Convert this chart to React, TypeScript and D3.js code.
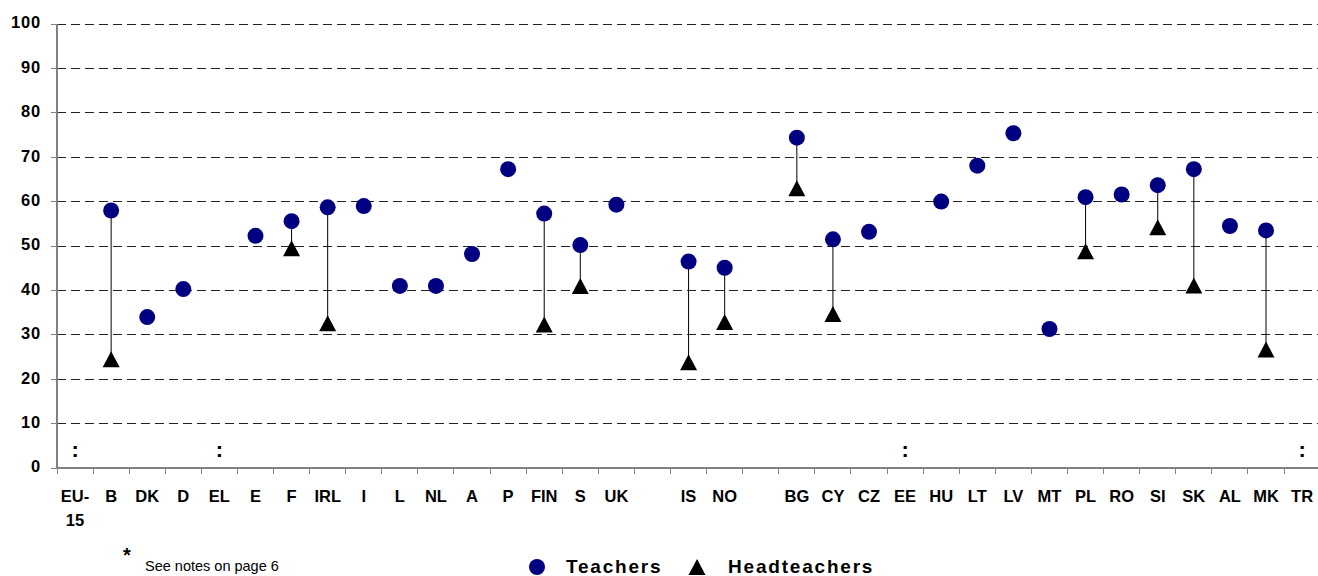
import * as React from "react";
import * as d3 from "d3";

// x slots, including the two blank spacer slots between country groups
const SLOTS = [
  "EU-15", "B", "DK", "D", "EL", "E", "F", "IRL", "I", "L", "NL", "A", "P", "FIN", "S", "UK",
  "_gap1", "IS", "NO", "_gap2",
  "BG", "CY", "CZ", "EE", "HU", "LT", "LV", "MT", "PL", "RO", "SI", "SK", "AL", "MK", "TR",
];

const MISSING = ["EU-15", "EL", "EE", "TR"];

const TEACHERS: [string, number][] = [
  ["B", 58], ["DK", 34], ["D", 40.3], ["E", 52.3], ["F", 55.6], ["IRL", 58.7], ["I", 59],
  ["L", 41], ["NL", 41], ["A", 48.2], ["P", 67.3], ["FIN", 57.3], ["S", 50.2], ["UK", 59.3],
  ["IS", 46.5], ["NO", 45.1],
  ["BG", 74.4], ["CY", 51.5], ["CZ", 53.2], ["HU", 60], ["LT", 68.1], ["LV", 75.4],
  ["MT", 31.3], ["PL", 61], ["RO", 61.6], ["SI", 63.7], ["SK", 67.3], ["AL", 54.5], ["MK", 53.5],
];

const HEADTEACHERS: [string, number][] = [
  ["B", 24.5], ["F", 49.5], ["IRL", 32.6], ["FIN", 32.3], ["S", 41],
  ["IS", 23.8], ["NO", 32.9],
  ["BG", 63], ["CY", 34.7], ["PL", 48.8], ["SI", 54.2], ["SK", 41.1], ["MK", 26.7],
];

const Y_TICKS = [0, 10, 20, 30, 40, 50, 60, 70, 80, 90, 100];

const WIDTH = 1318;
const HEIGHT = 576;
const margin = { top: 24, left: 57, bottom: 108 };

const NAVY = "#000080";
const FONT = "Arial, 'Liberation Sans', Helvetica, sans-serif";

const trianglePath = (s: number) => `M0,${-s}L${s + 0.5},${s}L${-s - 0.5},${s}Z`;

export default function App() {
  const x = d3
    .scaleBand<string>()
    .domain(SLOTS)
    .range([margin.left, margin.left + SLOTS.length * 36.09])
    .padding(0);
  const y = d3.scaleLinear().domain([0, 100]).range([HEIGHT - margin.bottom, margin.top]);

  const cx = (k: string) => (x(k) ?? 0) + x.bandwidth() / 2;
  const teacherMap = new Map(TEACHERS);
  const y0 = y(0);

  return (
    <svg
      width={WIDTH}
      height={HEIGHT}
      style={{ position: "absolute", left: 0, top: 0, background: "#fff" }}
      fontFamily={FONT}
    >
      {/* gridlines */}
      {Y_TICKS.filter((t) => t > 0).map((t) => (
        <line
          key={t}
          x1={margin.left}
          x2={WIDTH}
          y1={y(t)}
          y2={y(t)}
          stroke="#222"
          strokeDasharray="9,5"
          shapeRendering="crispEdges"
        />
      ))}

      {/* y axis */}
      <line x1={margin.left} x2={margin.left} y1={y(100)} y2={y0} stroke="#808080" strokeWidth={2} />
      {Y_TICKS.map((t) => (
        <g key={t}>
          <line x1={margin.left - 6} x2={margin.left} y1={y(t)} y2={y(t)} stroke="#808080" shapeRendering="crispEdges" />
          <text
            x={41}
            y={y(t)}
            textAnchor="end"
            dominantBaseline="middle"
            fontSize={16.5}
            fontWeight="bold"
            letterSpacing={0.8}
          >
            {t}
          </text>
        </g>
      ))}

      {/* x axis */}
      <line x1={margin.left} x2={WIDTH} y1={y0} y2={y0} stroke="#808080" strokeWidth={2} />
      {d3.range(SLOTS.length + 1).map((i) => {
        const tx = margin.left + i * x.step();
        return <line key={i} x1={tx} x2={tx} y1={y0} y2={y0 + 6} stroke="#808080" shapeRendering="crispEdges" />;
      })}
      {SLOTS.filter((s) => !s.startsWith("_")).map((s) => {
        const parts = s === "EU-15" ? ["EU-", "15"] : [s];
        return (
          <text key={s} x={cx(s)} y={502} textAnchor="middle" fontSize={16.5} fontWeight="bold">
            {parts.map((p, i) => (
              <tspan key={i} x={cx(s)} dy={i === 0 ? 0 : 24}>
                {p}
              </tspan>
            ))}
          </text>
        );
      })}

      {/* missing data markers */}
      {MISSING.map((s) => (
        <text key={s} x={cx(s)} y={y0 - 11} textAnchor="middle" fontSize={22} fontWeight="bold">
          :
        </text>
      ))}

      {/* stems */}
      {HEADTEACHERS.map(([k, v]) => (
        <line key={k} x1={cx(k)} x2={cx(k)} y1={y(teacherMap.get(k) ?? v)} y2={y(v)} stroke="#000" strokeWidth={1} />
      ))}

      {/* headteachers */}
      {HEADTEACHERS.map(([k, v]) => (
        <path key={k} d={trianglePath(8)} transform={`translate(${cx(k)},${y(v)})`} fill="#000" />
      ))}

      {/* teachers */}
      {TEACHERS.map(([k, v]) => (
        <circle key={k} cx={cx(k)} cy={y(v)} r={8} fill={NAVY} />
      ))}

      {/* footnote */}
      <text x={123} y={562} fontSize={20} fontWeight="bold">
        *
      </text>
      <text x={145} y={571} fontSize={14.5}>
        See notes on page 6
      </text>

      {/* legend */}
      <circle cx={537} cy={567} r={8} fill={NAVY} />
      <text x={566} y={573} fontSize={19} fontWeight="bold" letterSpacing={1.8}>
        Teachers
      </text>
      <path d={trianglePath(8)} transform="translate(697,567)" fill="#000" />
      <text x={728} y={573} fontSize={19} fontWeight="bold" letterSpacing={1.8}>
        Headteachers
      </text>
    </svg>
  );
}
